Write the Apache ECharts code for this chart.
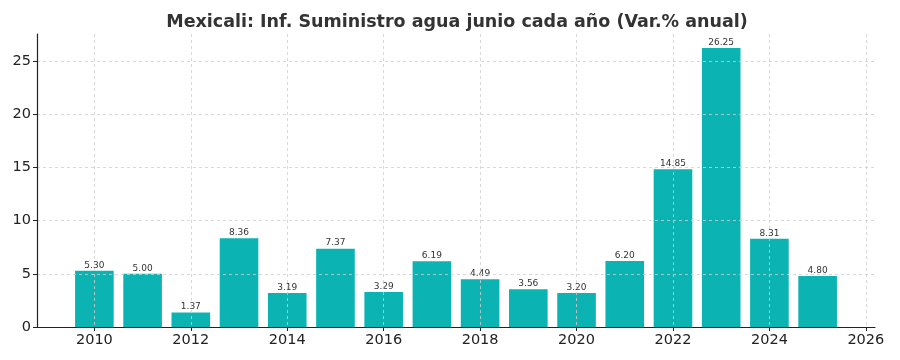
<!DOCTYPE html>
<html><head><meta charset="utf-8">
<script src="https://cdn.jsdelivr.net/npm/echarts@6/dist/echarts.min.js"></script>
<style>html,body{margin:0;padding:0;background:#fff}#c{width:900px;height:360px}</style>
</head><body><div id="c"></div>
<script>
const titleText = 'Mexicali: Inf. Suministro agua junio cada año (Var.% anual)';
const years = [2010, 2011, 2012, 2013, 2014, 2015, 2016, 2017, 2018, 2019, 2020, 2021, 2022, 2023, 2024, 2025];
const values = [5.30, 5.00, 1.37, 8.36, 3.19, 7.37, 3.29, 6.19, 4.49, 3.56, 3.20, 6.20, 14.85, 26.25, 8.31, 4.80];
const xTicks = [2010, 2012, 2014, 2016, 2018, 2020, 2022, 2024, 2026];
const yTicks = [0, 5, 10, 15, 20, 25];

const chart = echarts.init(document.getElementById('c'), null, {renderer: 'canvas'});
const font = 'DejaVu Sans';
const gridLine = {show: true, lineStyle: {color: '#cfcfcf', type: [3, 3], width: 0.8}};
chart.setOption({
  animation: false,
  textStyle: {fontFamily: font},
  title: {
    text: titleText, left: 452, top: 8, textAlign: 'center',
    textStyle: {fontFamily: font, fontWeight: 'bold', fontSize: 17.5, color: '#333333'}
  },
  grid: {left: 37, right: 25, top: 34, bottom: 33, containLabel: false},
  xAxis: {
    type: 'value', min: 2008.81, max: 2026.19, z: 3,
    axisLine: {show: true, onZero: false, lineStyle: {color: '#222', width: 1.2}},
    axisTick: {show: true, customValues: xTicks, length: 4, lineStyle: {color: '#222'}},
    axisLabel: {customValues: xTicks, color: '#222', fontSize: 14.5, margin: 6, formatter: v => String(v)},
    splitLine: gridLine
  },
  yAxis: {
    type: 'value', min: 0, max: 27.5625, z: 3,
    axisLine: {show: true, lineStyle: {color: '#222', width: 1.2}},
    axisTick: {show: true, customValues: yTicks, length: 4, lineStyle: {color: '#222'}},
    axisLabel: {customValues: yTicks, color: '#222', fontSize: 14.5, margin: 6},
    splitLine: gridLine
  },
  series: [{
    type: 'bar',
    data: years.map((y, i) => [y, values[i]]),
    barWidth: 38.6,
    itemStyle: {color: '#0bb3b3'},
    label: {show: true, position: 'top', distance: 1, fontSize: 9, color: '#333', formatter: p => p.value[1].toFixed(2)}
  }]
});
</script></body></html>
